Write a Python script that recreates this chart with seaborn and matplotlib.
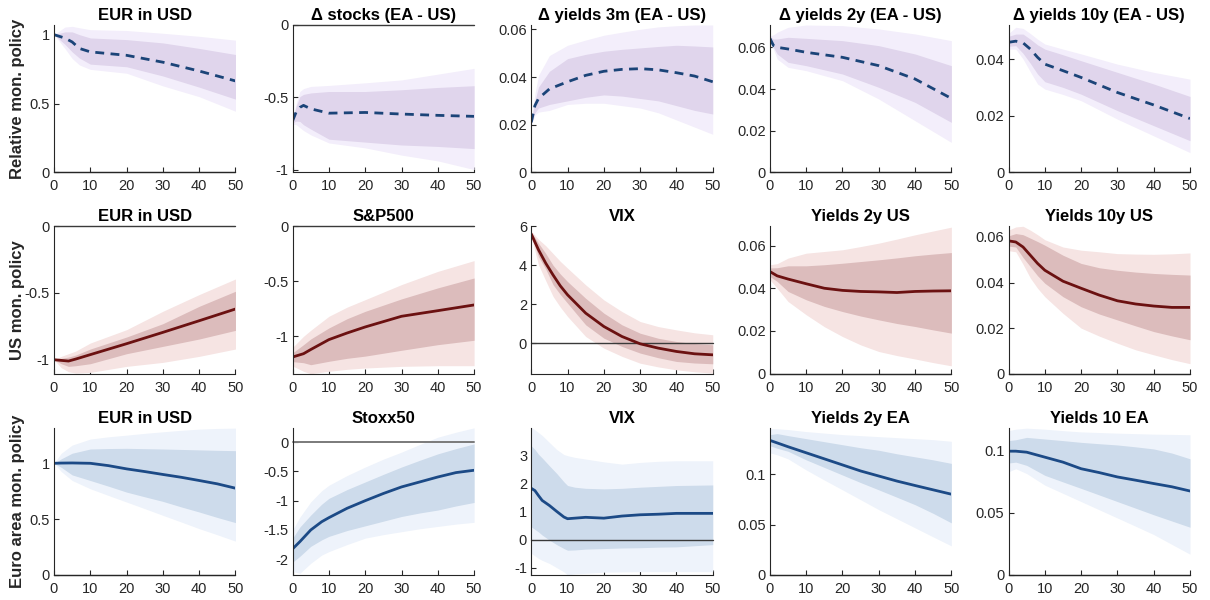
import matplotlib
matplotlib.use("Agg")
import matplotlib.pyplot as plt
import seaborn as sns
from matplotlib.ticker import FuncFormatter

# ---------------- data ----------------
row_labels = ["Relative mon. policy", "US mon. policy", "Euro area mon. policy"]

titles = [
    ["EUR in USD", "Δ stocks (EA - US)", "Δ yields 3m (EA - US)", "Δ yields 2y (EA - US)", "Δ yields 10y (EA - US)"],
    ["EUR in USD", "S&P500", "VIX", "Yields 2y US", "Yields 10y US"],
    ["EUR in USD", "Stoxx50", "VIX", "Yields 2y EA", "Yields 10 EA"],
]

# Row 1: relative monetary policy
h11 = [0, 3, 5, 7, 10, 20, 30, 40, 50]
med11 = [1.0, 0.975, 0.947, 0.90, 0.875, 0.85, 0.80, 0.736, 0.664]
hi68_11 = [1.0, 1.02, 1.02, 1.0, 0.976, 0.964, 0.94, 0.90, 0.856]
lo68_11 = [1.0, 0.93, 0.875, 0.83, 0.786, 0.767, 0.70, 0.619, 0.532]
hi90_11 = [1.0, 1.055, 1.06, 1.05, 1.036, 1.03, 1.01, 0.988, 0.96]
lo90_11 = [1.0, 0.90, 0.827, 0.78, 0.748, 0.72, 0.628, 0.55, 0.444]

h12 = [0, 1, 2, 3, 5, 10, 20, 30, 40, 50]
med12 = [-0.662, -0.60, -0.57, -0.556, -0.58, -0.61, -0.605, -0.616, -0.625, -0.632]
hi68_12 = [-0.65, -0.56, -0.495, -0.48, -0.47, -0.46, -0.46, -0.448, -0.432, -0.42]
lo68_12 = [-0.675, -0.665, -0.667, -0.69, -0.72, -0.79, -0.81, -0.83, -0.84, -0.855]
hi90_12 = [-0.64, -0.54, -0.46, -0.44, -0.425, -0.418, -0.40, -0.38, -0.34, -0.30]
lo90_12 = [-0.685, -0.69, -0.71, -0.73, -0.76, -0.816, -0.85, -0.90, -0.94, -1.0]

h13 = [0, 1, 2, 5, 10, 15, 20, 25, 30, 35, 40, 45, 50]
med13 = [0.021, 0.028, 0.031, 0.035, 0.038, 0.0407, 0.0424, 0.0432, 0.0435, 0.043, 0.0418, 0.0404, 0.038]
hi68_13 = [0.0215, 0.030, 0.0358, 0.0424, 0.0477, 0.0495, 0.0508, 0.0516, 0.0522, 0.0528, 0.0533, 0.053, 0.0526]
lo68_13 = [0.0205, 0.025, 0.027, 0.0285, 0.030, 0.0315, 0.0325, 0.032, 0.031, 0.030, 0.028, 0.026, 0.0245]
hi90_13 = [0.022, 0.033, 0.0407, 0.049, 0.0533, 0.0555, 0.0575, 0.0588, 0.060, 0.061, 0.0615, 0.0618, 0.0618]
lo90_13 = [0.020, 0.024, 0.0253, 0.026, 0.0285, 0.029, 0.029, 0.028, 0.027, 0.025, 0.022, 0.019, 0.016]

h14 = [0, 1, 2, 5, 10, 20, 30, 40, 50]
med14 = [0.0643, 0.0608, 0.060, 0.0592, 0.0576, 0.0552, 0.0512, 0.0448, 0.0355]
hi68_14 = [0.065, 0.064, 0.064, 0.0648, 0.0643, 0.0632, 0.0608, 0.0568, 0.0512]
lo68_14 = [0.0625, 0.060, 0.0568, 0.0528, 0.0512, 0.0472, 0.0408, 0.0336, 0.024]
hi90_14 = [0.0655, 0.066, 0.0672, 0.0696, 0.0707, 0.0704, 0.0688, 0.0664, 0.0632]
lo90_14 = [0.062, 0.059, 0.0544, 0.0504, 0.0488, 0.044, 0.0352, 0.0248, 0.0144]

h15 = [0, 2, 4, 6, 8, 10, 15, 20, 30, 40, 50]
med15 = [0.0459, 0.0463, 0.0457, 0.0435, 0.0406, 0.0382, 0.0359, 0.0335, 0.0282, 0.0238, 0.019]
hi68_15 = [0.048, 0.0488, 0.0488, 0.047, 0.045, 0.0435, 0.0415, 0.0394, 0.0353, 0.0312, 0.0268]
lo68_15 = [0.0445, 0.0447, 0.042, 0.0385, 0.0347, 0.032, 0.030, 0.0276, 0.0218, 0.0165, 0.0112]
hi90_15 = [0.049, 0.0512, 0.0508, 0.049, 0.047, 0.0453, 0.0435, 0.0418, 0.0382, 0.0353, 0.0329]
lo90_15 = [0.0435, 0.0435, 0.040, 0.0355, 0.0312, 0.0294, 0.0275, 0.0253, 0.0188, 0.0129, 0.007]

# Row 2: US monetary policy
h21 = [0, 2, 4, 6, 10, 20, 30, 40, 50]
med21 = [-1.0, -1.005, -1.01, -0.995, -0.962, -0.88, -0.795, -0.708, -0.62]
hi68_21 = [-1.0, -0.99, -0.98, -0.965, -0.92, -0.83, -0.73, -0.60, -0.487]
lo68_21 = [-1.0, -1.03, -1.05, -1.045, -1.03, -0.955, -0.90, -0.845, -0.78]
hi90_21 = [-1.0, -0.975, -0.955, -0.935, -0.875, -0.775, -0.637, -0.512, -0.395]
lo90_21 = [-1.0, -1.06, -1.09, -1.1, -1.095, -1.05, -1.02, -0.975, -0.92]

h22 = [0, 3, 5, 10, 15, 20, 30, 40, 50]
med22 = [-1.188, -1.158, -1.12, -1.03, -0.97, -0.915, -0.818, -0.767, -0.715]
hi68_22 = [-1.15, -1.076, -1.024, -0.924, -0.84, -0.773, -0.66, -0.56, -0.47]
lo68_22 = [-1.23, -1.24, -1.258, -1.227, -1.20, -1.18, -1.127, -1.076, -1.036]
hi90_22 = [-1.10, -1.0, -0.945, -0.818, -0.735, -0.667, -0.53, -0.41, -0.312]
lo90_22 = [-1.27, -1.318, -1.34, -1.318, -1.30, -1.288, -1.273, -1.267, -1.267]

h23 = [0, 2, 4, 6, 8, 10, 15, 20, 25, 30, 35, 40, 45, 50]
med23 = [5.6, 4.79, 4.1, 3.5, 2.94, 2.48, 1.54, 0.855, 0.34, -0.034, -0.256, -0.427, -0.547, -0.6]
hi68_23 = [5.7, 5.13, 4.6, 4.0, 3.55, 3.16, 2.3, 1.54, 0.94, 0.51, 0.25, 0.085, -0.02, -0.085]
lo68_23 = [5.5, 4.44, 3.8, 3.0, 2.5, 2.05, 0.94, 0.256, -0.17, -0.51, -0.75, -0.94, -1.02, -1.06]
hi90_23 = [5.75, 5.33, 5.0, 4.6, 4.2, 3.85, 2.99, 2.22, 1.62, 1.11, 0.85, 0.68, 0.53, 0.43]
lo90_23 = [5.45, 4.02, 3.2, 2.4, 1.85, 1.37, 0.34, -0.256, -0.68, -1.03, -1.22, -1.37, -1.47, -1.54]

h24 = [0, 2, 5, 10, 15, 20, 25, 30, 35, 40, 45, 50]
med24 = [0.0478, 0.0458, 0.0443, 0.0421, 0.040, 0.039, 0.0385, 0.0383, 0.038, 0.0385, 0.0387, 0.0388]
hi68_24 = [0.0495, 0.0496, 0.0505, 0.0505, 0.051, 0.0517, 0.0525, 0.0533, 0.0542, 0.0552, 0.056, 0.0567]
lo68_24 = [0.0455, 0.0432, 0.0385, 0.0346, 0.0315, 0.0291, 0.027, 0.0252, 0.0235, 0.0221, 0.0205, 0.019]
hi90_24 = [0.051, 0.0515, 0.0541, 0.0564, 0.0572, 0.058, 0.0595, 0.0611, 0.063, 0.065, 0.0668, 0.0686]
lo90_24 = [0.044, 0.040, 0.0338, 0.0276, 0.022, 0.0174, 0.0135, 0.0104, 0.0085, 0.0069, 0.0052, 0.0037]

h25 = [0, 2, 4, 6, 8, 10, 15, 20, 25, 30, 35, 40, 45, 50]
med25 = [0.0583, 0.0578, 0.0556, 0.052, 0.0484, 0.0454, 0.0406, 0.0375, 0.0345, 0.032, 0.0306, 0.0297, 0.0291, 0.0291]
hi68_25 = [0.0605, 0.0615, 0.061, 0.0595, 0.058, 0.0564, 0.052, 0.0484, 0.0465, 0.0454, 0.0446, 0.044, 0.0436, 0.0433]
lo68_25 = [0.056, 0.0556, 0.051, 0.047, 0.043, 0.0397, 0.0338, 0.0294, 0.0262, 0.0236, 0.021, 0.0185, 0.0166, 0.0149]
hi90_25 = [0.063, 0.0644, 0.0647, 0.063, 0.061, 0.0588, 0.0556, 0.0542, 0.0535, 0.0527, 0.0525, 0.0524, 0.0526, 0.053]
lo90_25 = [0.054, 0.0535, 0.048, 0.042, 0.0375, 0.0338, 0.0265, 0.020, 0.0165, 0.0134, 0.0105, 0.0083, 0.0062, 0.0044]

# Row 3: euro area monetary policy
h31 = [0, 2, 5, 10, 15, 20, 25, 30, 35, 40, 45, 50]
med31 = [1.0, 1.002, 1.003, 1.0, 0.979, 0.95, 0.926, 0.9, 0.875, 0.846, 0.816, 0.777]
hi68_31 = [1.0, 1.04, 1.09, 1.128, 1.132, 1.134, 1.131, 1.128, 1.124, 1.12, 1.116, 1.113]
lo68_31 = [1.0, 0.964, 0.896, 0.846, 0.795, 0.742, 0.70, 0.659, 0.61, 0.564, 0.515, 0.469]
hi90_31 = [1.0, 1.09, 1.163, 1.217, 1.237, 1.252, 1.268, 1.282, 1.295, 1.306, 1.312, 1.315]
lo90_31 = [1.0, 0.926, 0.846, 0.772, 0.712, 0.653, 0.594, 0.534, 0.475, 0.415, 0.36, 0.303]

h32 = [0, 2, 5, 8, 10, 15, 20, 25, 30, 35, 40, 45, 50]
med32 = [-1.823, -1.7, -1.5, -1.36, -1.29, -1.13, -1.0, -0.877, -0.765, -0.68, -0.595, -0.52, -0.48]
hi68_32 = [-1.64, -1.45, -1.245, -1.06, -0.96, -0.81, -0.68, -0.55, -0.425, -0.31, -0.2, -0.11, -0.03]
lo68_32 = [-2.05, -1.95, -1.78, -1.67, -1.61, -1.51, -1.43, -1.35, -1.27, -1.21, -1.16, -1.09, -1.03]
hi90_32 = [-1.5, -1.28, -1.02, -0.83, -0.736, -0.57, -0.425, -0.29, -0.17, -0.04, 0.085, 0.17, 0.245]
lo90_32 = [-2.21, -2.24, -2.07, -1.93, -1.87, -1.75, -1.64, -1.58, -1.53, -1.48, -1.44, -1.4, -1.37]

h33 = [0, 1, 2, 3, 5, 7, 9, 10, 12, 15, 20, 25, 30, 35, 40, 45, 50]
med33 = [1.82, 1.74, 1.56, 1.39, 1.21, 1.0, 0.8, 0.74, 0.76, 0.79, 0.76, 0.835, 0.88, 0.9, 0.93, 0.93, 0.93]
hi68_33 = [3.33, 3.2, 3.03, 2.9, 2.62, 2.35, 2.05, 1.92, 1.86, 1.82, 1.8, 1.82, 1.86, 1.89, 1.92, 1.93, 1.94]
lo68_33 = [0.45, 0.36, 0.27, 0.16, -0.02, -0.18, -0.32, -0.38, -0.37, -0.34, -0.32, -0.3, -0.29, -0.27, -0.26, -0.22, -0.18]
hi90_33 = [3.98, 3.9, 3.8, 3.7, 3.45, 3.2, 3.02, 2.98, 2.92, 2.86, 2.76, 2.68, 2.74, 2.78, 2.8, 2.8, 2.8]
lo90_33 = [-0.49, -0.58, -0.67, -0.74, -0.85, -1.0, -1.15, -1.26, -1.22, -1.2, -1.16, -1.15, -1.14, -1.14, -1.14, -1.14, -1.14]

h34 = [0, 2, 5, 10, 15, 20, 25, 30, 35, 40, 45, 50]
med34 = [0.1333, 0.1308, 0.127, 0.121, 0.115, 0.109, 0.103, 0.098, 0.093, 0.0886, 0.0843, 0.080]
hi68_34 = [0.139, 0.14, 0.138, 0.135, 0.132, 0.129, 0.126, 0.1235, 0.120, 0.117, 0.114, 0.1105]
lo68_34 = [0.128, 0.1255, 0.1225, 0.114, 0.1065, 0.099, 0.0915, 0.0843, 0.077, 0.0696, 0.061, 0.0516]
hi90_34 = [0.145, 0.1448, 0.144, 0.142, 0.1405, 0.139, 0.138, 0.137, 0.136, 0.135, 0.134, 0.1324]
lo90_34 = [0.121, 0.119, 0.115, 0.104, 0.094, 0.0843, 0.0745, 0.0647, 0.0557, 0.0467, 0.0377, 0.0288]

h35 = [0, 2, 5, 10, 15, 20, 25, 30, 35, 40, 45, 50]
med35 = [0.0995, 0.0995, 0.0987, 0.0947, 0.0907, 0.0854, 0.0823, 0.0788, 0.0762, 0.0735, 0.0709, 0.0675]
hi68_35 = [0.108, 0.1087, 0.1106, 0.1093, 0.108, 0.1066, 0.1055, 0.1045, 0.103, 0.1013, 0.098, 0.0934]
lo68_35 = [0.090, 0.0907, 0.0881, 0.0801, 0.0748, 0.0696, 0.0643, 0.059, 0.0537, 0.0484, 0.0434, 0.0384]
hi90_35 = [0.116, 0.1172, 0.118, 0.1172, 0.116, 0.115, 0.1145, 0.114, 0.1136, 0.1132, 0.113, 0.1127]
lo90_35 = [0.083, 0.0854, 0.0815, 0.0722, 0.0656, 0.059, 0.0524, 0.0458, 0.0392, 0.0325, 0.0246, 0.0167]

horizons = [[h11, h12, h13, h14, h15], [h21, h22, h23, h24, h25], [h31, h32, h33, h34, h35]]
medians = [[med11, med12, med13, med14, med15], [med21, med22, med23, med24, med25], [med31, med32, med33, med34, med35]]
hi68s = [[hi68_11, hi68_12, hi68_13, hi68_14, hi68_15], [hi68_21, hi68_22, hi68_23, hi68_24, hi68_25], [hi68_31, hi68_32, hi68_33, hi68_34, hi68_35]]
lo68s = [[lo68_11, lo68_12, lo68_13, lo68_14, lo68_15], [lo68_21, lo68_22, lo68_23, lo68_24, lo68_25], [lo68_31, lo68_32, lo68_33, lo68_34, lo68_35]]
hi90s = [[hi90_11, hi90_12, hi90_13, hi90_14, hi90_15], [hi90_21, hi90_22, hi90_23, hi90_24, hi90_25], [hi90_31, hi90_32, hi90_33, hi90_34, hi90_35]]
lo90s = [[lo90_11, lo90_12, lo90_13, lo90_14, lo90_15], [lo90_21, lo90_22, lo90_23, lo90_24, lo90_25], [lo90_31, lo90_32, lo90_33, lo90_34, lo90_35]]

x_ticks = [0, 10, 20, 30, 40, 50]
y_ticks = [
    [[0, 0.5, 1], [-1, -0.5, 0], [0, 0.02, 0.04, 0.06], [0, 0.02, 0.04, 0.06], [0, 0.02, 0.04]],
    [[-1, -0.5, 0], [-1, -0.5, 0], [0, 2, 4, 6], [0, 0.02, 0.04, 0.06], [0, 0.02, 0.04, 0.06]],
    [[0, 0.5, 1], [-2, -1.5, -1, -0.5, 0], [-1, 0, 1, 2, 3], [0, 0.05, 0.1], [0, 0.05, 0.1]],
]
y_limits = [
    [(0, 1.07), (-1.02, 0), (0, 0.0618), (0, 0.0707), (0, 0.052)],
    [(-1.105, 0), (-1.34, 0), (-1.57, 6.0), (0, 0.069), (0, 0.0647)],
    [(0, 1.32), (-2.27, 0.25), (-1.26, 3.98), (0, 0.146), (0, 0.1185)],
]

# ---------------- styling ----------------
row_styles = [
    dict(outer="#f3eefb", inner="#e0d5ec", line="#1b4478", ls=(0, (3.2, 2.3))),
    dict(outer="#f6e4e3", inner="#dcbcbc", line="#6b1111", ls="-"),
    dict(outer="#eef3fb", inner="#cddbeb", line="#1c4a86", ls="-"),
]

sns.set_style("white")
plt.rcParams["font.family"] = ["Liberation Sans", "DejaVu Sans"]
plt.rcParams["axes.unicode_minus"] = False

fig, axes = plt.subplots(3, 5, figsize=(12.1, 6.0), dpi=100)
fig.subplots_adjust(left=54 / 1210, right=1190 / 1210, top=1 - 25 / 600,
                    bottom=1 - 575 / 600, wspace=0.315, hspace=0.365)

axis_col = "#262626"
fmt = FuncFormatter(lambda v, p: "%g" % v)

for r in range(3):
    st = row_styles[r]
    for c in range(5):
        ax = axes[r, c]
        h = horizons[r][c]
        ax.fill_between(h, lo90s[r][c], hi90s[r][c], color=st["outer"], lw=0, zorder=1)
        ax.fill_between(h, lo68s[r][c], hi68s[r][c], color=st["inner"], lw=0, zorder=2)
        zcol, zlw = ("#7a7a7a", 1.4) if (r, c) == (2, 1) else ("#3a3a3a", 1.0)
        ax.axhline(0, color=zcol, lw=zlw, zorder=3, clip_on=False)
        sns.lineplot(x=h, y=medians[r][c], ax=ax, color=st["line"], lw=2.0,
                     linestyle=st["ls"], zorder=4)
        ax.set_xlim(0, 50)
        ax.set_ylim(*y_limits[r][c])
        ax.set_xticks(x_ticks)
        ax.set_yticks(y_ticks[r][c])
        ax.yaxis.set_major_formatter(fmt)
        ax.xaxis.set_major_formatter(fmt)
        for s in ["top", "right"]:
            ax.spines[s].set_visible(False)
        for s in ["left", "bottom"]:
            ax.spines[s].set_color(axis_col)
            ax.spines[s].set_linewidth(0.8)
            ax.spines[s].set_zorder(5)
        ax.tick_params(axis="both", which="major", bottom=True, left=True,
                       top=False, right=False, direction="in", length=3.5,
                       width=0.8, colors=axis_col, labelsize=10.5)
        ax.tick_params(axis="x", pad=5)
        ax.tick_params(axis="y", pad=3)
        ax.set_xlabel("")
        ax.set_ylabel("")
        ax.set_title(titles[r][c], fontsize=12, fontweight="bold", pad=3.5, color="black")
    pos = axes[r, 0].get_position()
    fig.text(18 / 1210, (pos.y0 + pos.y1) / 2, row_labels[r], rotation=90,
             ha="center", va="center", fontsize=12, fontweight="bold", color=axis_col)

fig.savefig("out.png", dpi=100)
